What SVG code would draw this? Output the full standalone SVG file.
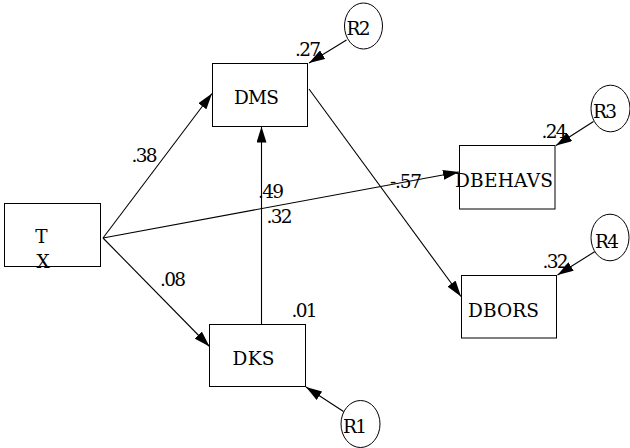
<svg xmlns="http://www.w3.org/2000/svg" width="630" height="448" viewBox="0 0 630 448">
<defs>
<style>
.box{fill:#fff;stroke:#000;stroke-width:1}
.res{fill:#fff;stroke:#000;stroke-width:1}
.t{font-family:"DejaVu Serif",serif;font-size:18.5px;fill:#000}
.e{fill:none;stroke:#000;stroke-width:1.1;marker-end:url(#ah)}
</style>
<marker id="ah" viewBox="0 0 16 10" refX="16" refY="5" markerWidth="16" markerHeight="10" markerUnits="userSpaceOnUse" orient="auto">
<path d="M0,0 L16,5 L0,10 Z" fill="#000"/>
</marker>
</defs>
<rect width="630" height="448" fill="#fff"/>
<g id="connectors">
<line class="e" x1="103" y1="238" x2="212" y2="93.5"/>
<line class="e" x1="103" y1="238" x2="459" y2="172"/>
<line class="e" x1="103" y1="238" x2="209.5" y2="346.5"/>
<line class="e" x1="261.5" y1="324" x2="261.5" y2="126.5"/>
<line class="e" x1="309" y1="89" x2="461" y2="296.5"/>
<line class="e" x1="346.5" y1="40" x2="309" y2="63"/>
<line class="e" x1="593.5" y1="121.5" x2="556" y2="145.5"/>
<line class="e" x1="595" y1="251.5" x2="557.5" y2="275"/>
<line class="e" x1="343.5" y1="411.5" x2="306" y2="387"/>
</g>
<g id="labels">
<text class="t" x="131.5" y="161.5" textLength="26">.38</text>
<text class="t" x="160" y="286" textLength="26">.08</text>
<text class="t" x="258" y="198" textLength="26">.49</text>
<text class="t" x="266.5" y="223" textLength="26">.32</text>
<text class="t" x="390" y="188" textLength="32">-.57</text>
</g>
<g id="TX">
<rect class="box" x="4.5" y="203.5" width="96" height="63"/>
<text class="t" x="41.5" y="243" text-anchor="middle">T</text>
<text class="t" x="43" y="268" text-anchor="middle">X</text>
</g>
<g id="DMS">
<rect class="box" x="212.5" y="63.5" width="95" height="63"/>
<text class="t" x="234" y="104" textLength="45">DMS</text>
<text class="t" x="295" y="56" textLength="26">.27</text>
</g>
<g id="DKS">
<rect class="box" x="209.5" y="324.5" width="96" height="62"/>
<text class="t" x="232.5" y="365" textLength="42">DKS</text>
<text class="t" x="291.5" y="317" textLength="26">.01</text>
</g>
<g id="DBEHAVS">
<rect class="box" x="459.5" y="145.5" width="95.5" height="63.5"/>
<text class="t" x="455" y="186.5" textLength="98">DBEHAVS</text>
<text class="t" x="541.5" y="138" textLength="26">.24</text>
</g>
<g id="DBORS">
<rect class="box" x="461.5" y="275.5" width="95" height="62.5"/>
<text class="t" x="468" y="316.5" textLength="71">DBORS</text>
<text class="t" x="542.5" y="268" textLength="26">.32</text>
</g>
<g id="R1">
<ellipse class="res" cx="360.5" cy="424" rx="19.5" ry="23.5"/>
<text class="t" x="343" y="433" textLength="24">R1</text>
</g>
<g id="R2">
<ellipse class="res" cx="363.5" cy="26" rx="19" ry="23"/>
<text class="t" x="346.5" y="35" textLength="24">R2</text>
</g>
<g id="R3">
<ellipse class="res" cx="610.5" cy="108.5" rx="19.5" ry="23.3"/>
<text class="t" x="593" y="118" textLength="24">R3</text>
</g>
<g id="R4">
<ellipse class="res" cx="610" cy="237.5" rx="19" ry="23.3"/>
<text class="t" x="595" y="247.5" textLength="24">R4</text>
</g>
</svg>
